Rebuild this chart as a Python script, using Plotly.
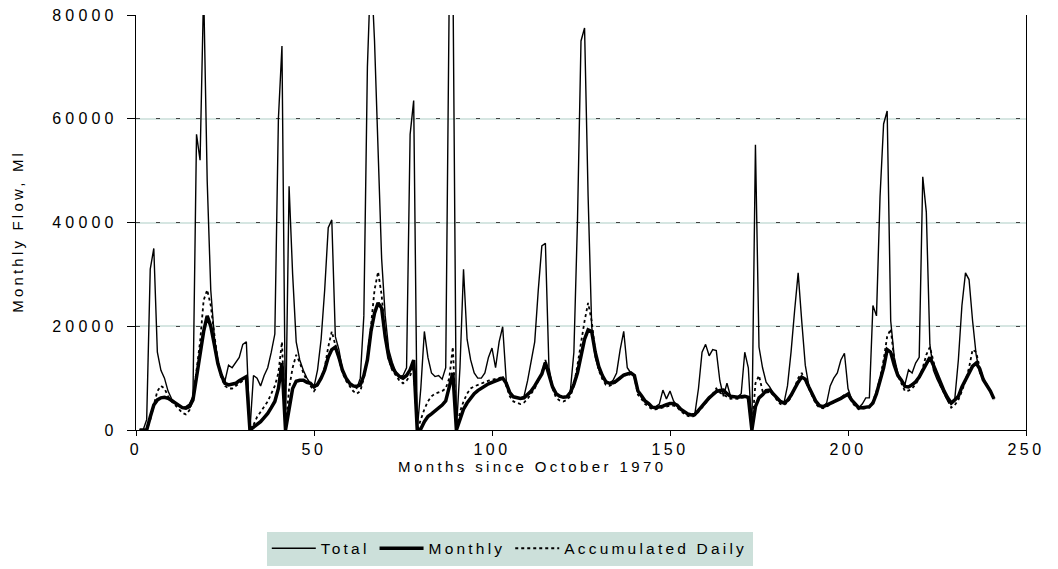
import plotly.graph_objects as go

months = list(range(1, 242))

total = [
    0, 0, 2000, 31000, 35000, 15000, 11500, 10000, 7500, 6000,
    5300, 4700, 4300, 4500, 5000, 6500, 57000, 52000, 85000, 48000,
    27000, 18000, 13000, 10500, 9500, 12500, 12000, 13000, 14000, 16500,
    17000, 0, 10500, 10000, 8500, 10500, 12000, 15000, 18500, 60000,
    74000, 0, 47000, 30000, 17000, 13500, 11500, 10000, 9000, 8300,
    11600, 17500, 27000, 39000, 40500, 18000, 15500, 11600, 10000, 9000,
    8500, 8000, 10000, 22000, 70000, 90000, 75000, 52000, 33000, 22000,
    15500, 13000, 11200, 10300, 10500, 12000, 57000, 63500, 0, 8000,
    19000, 14000, 11000, 10300, 10500, 9800, 12000, 85000, 90000, 0,
    12000, 31000, 17500, 13500, 11000, 10000, 10000, 11000, 14000, 15800,
    12000, 17000, 19900, 9500, 7000, 6400, 6200, 6200, 6500, 9500,
    13000, 17000, 27000, 35500, 36000, 12000, 8500, 7000, 6500, 6300,
    6300, 7500, 15000, 40000, 75000, 77500, 45000, 20000, 14000, 11600,
    10500, 9200, 9000, 9600, 11000, 15500, 19000, 12000, 11000, 10400,
    7500, 6300, 5400, 4800, 4300, 4500, 5000, 7700, 6000, 7500,
    5600, 4600, 3900, 3500, 3000, 2900, 3200, 8000, 15000, 16500,
    14300, 15500, 15300, 9500, 6500, 9000, 6500, 6400, 6400, 7000,
    15000, 12000, 0, 55000, 16000, 12000, 9200, 8300, 7200, 6000,
    5600, 5200, 8500, 15000, 23000, 30300, 21000, 12500, 8500, 6700,
    5500, 4700, 4500, 5200, 8500, 10000, 11000, 13500, 14800, 8000,
    6000, 5000, 4300, 5000, 6200, 6200, 24000, 22000, 45000, 59000,
    61500, 21000, 14000, 11000, 9600, 8800, 11600, 11000, 12900, 14000,
    48800, 42000, 16500, 11500, 9800, 8300, 6800, 5600, 5200, 6000,
    13500, 24000, 30300, 29000, 21000, 14500, 11000, 9700, 8700, 7500,
    6000,
]

monthly = [
    0, 0, 0, 2500, 4800, 5800, 6200, 6300, 6100, 5700,
    5200, 4700, 4300, 4200, 4500, 5800, 10000, 15000, 19000, 22000,
    20000, 16500, 12800, 10500, 9000, 8700, 8800, 9000, 9500, 10000,
    10300, 0, 500, 1000, 1600, 2400, 3200, 4300, 5500, 8000,
    12900, 0, 4500, 8000, 9400, 9600, 9600, 9200, 9000, 8300,
    8800, 10000, 11600, 14000, 15500, 16000, 14000, 11500, 10000, 9000,
    8500, 8400, 8700, 10500, 13500, 19000, 22500, 24500, 23500, 18000,
    14000, 12000, 11000, 10300, 10000, 10500, 11600, 13500, 0, 200,
    1600, 2600, 3100, 3600, 4200, 4800, 5600, 8500, 11000, 0,
    1800, 4000, 5200, 6200, 7000, 7600, 8100, 8500, 8900, 9200,
    9500, 9800, 10000, 9000, 7200, 6400, 6200, 6100, 6200, 6800,
    7500, 8500, 9600, 10800, 13000, 10500, 8300, 7000, 6500, 6300,
    6400, 7200, 8800, 11000, 14500, 17500, 19300, 19000, 15000, 12200,
    10500, 9300, 9000, 9100, 9500, 10000, 10600, 10800, 11000, 10500,
    7500, 6600, 5600, 5100, 4400, 4300, 4400, 4600, 4900, 5100,
    5100, 4800, 4000, 3500, 3100, 2900, 3000, 3800, 4600, 5500,
    6200, 6800, 7400, 7600, 7700, 7000, 6500, 6400, 6300, 6400,
    6500, 6300, 0, 4500, 6200, 6800, 7600, 7700, 7000, 6300,
    5500, 5200, 5700, 6700, 8000, 9200, 10200, 9800, 8300, 6700,
    5500, 4700, 4500, 4800, 5100, 5500, 5800, 6100, 6500, 6900,
    5800, 5000, 4300, 4300, 4400, 4500, 5200, 7000, 9500, 12000,
    15500, 15000, 12500, 10500, 9600, 8400, 8300, 8700, 9300, 10200,
    11500, 12700, 14000, 12500, 10800, 9000, 7500, 6200, 5200, 5800,
    6500, 8300, 9700, 11000, 12300, 12900, 11800, 9700, 8600, 7500,
    6000,
]

daily = [
    0, 0, 0, 2000, 5000, 7500, 8500, 8000, 6500, 5500,
    4800, 4000, 3300, 3000, 3800, 6000, 12000, 17000, 25000, 27000,
    24000, 18000, 13000, 10000, 8500, 8000, 8000, 8500, 9000, 9500,
    10000, 0, 1000, 2500, 3500, 4500, 5500, 7000, 8500, 11000,
    17000, 0, 8000, 12000, 14500, 13000, 11000, 9500, 8500, 7500,
    8500, 10000, 12000, 16000, 19000, 16500, 14000, 11000, 9500, 8500,
    7500, 7000, 7500, 10000, 14000, 20000, 27000, 30500, 26000, 18000,
    13500, 11500, 10500, 9500, 9000, 9500, 10500, 12000, 0, 2000,
    4000, 5500, 6500, 7000, 7200, 7500, 8000, 10000, 16000, 0,
    3500, 5500, 7000, 8000, 8400, 8700, 9000, 9200, 9500, 9700,
    9900, 10000, 10200, 8500, 6500, 5500, 5200, 5000, 5300, 6000,
    7000, 8000, 9500, 11000, 13500, 10500, 8000, 6200, 5700, 5500,
    5800, 6500, 8500, 12500, 17000, 21000, 24500, 21000, 15000, 11500,
    9800, 8700, 8500, 8800, 9300, 10000, 10600, 10500, 10800, 10200,
    6800, 6000, 5000, 4500, 4000, 4000, 4200, 4300, 4500, 4700,
    4700, 4400, 3600, 3200, 2700, 2500, 2800, 3500, 4300, 5200,
    6000, 7000, 8000, 7200, 6800, 6500, 6000, 6100, 6000, 6200,
    6300, 6000, 0, 9000, 10500, 7500, 7200, 7300, 6800, 5800,
    5000, 4800, 5300, 6300, 8000, 10000, 11000, 9500, 7800, 6200,
    5000, 4300, 4200, 4500, 4900, 5300, 5700, 6200, 6800, 7000,
    5500, 4600, 4000, 4100, 4200, 4300, 5500, 7500, 10000, 13500,
    18000, 19500, 13500, 10500, 9000, 7500, 7600, 8000, 8800, 10000,
    12000, 14500, 16000, 13000, 10500, 8500, 7000, 5500, 4300, 4800,
    5800, 7500, 9500, 12000, 15500, 15000, 12000, 10000, 8800, 7500,
    5800,
]

x_ticks = [0, 50, 100, 150, 200, 250]
y_ticks = [0, 20000, 40000, 60000, 80000]

FONT = "Liberation Sans, Arial, sans-serif"


def spaced(txt, px):
    return '<span style="letter-spacing:%spx">%s</span>' % (px, txt)


fig = go.Figure()
fig.add_trace(go.Scatter(x=months, y=total, mode="lines", name=spaced("Total", 3.2),
                         line=dict(color="black", width=1.4)))
fig.add_trace(go.Scatter(x=months, y=monthly, mode="lines", name=spaced("Monthly", 3.2),
                         line=dict(color="black", width=3.5)))
fig.add_trace(go.Scatter(x=months, y=daily, mode="lines", name=spaced("Accumulated Daily", 3.2),
                         line=dict(color="black", width=1.8, dash="3px,3px")))
# carrier for the dashed grid overlay
fig.add_trace(go.Scatter(x=[None], y=[None], yaxis="y2", showlegend=False,
                         hoverinfo="skip", mode="lines"))

fig.update_layout(
    width=1058, height=569,
    margin=dict(l=136, r=32, t=15, b=139, autoexpand=False),
    paper_bgcolor="white", plot_bgcolor="white",
    font=dict(family=FONT, size=15, color="black"),
    showlegend=True,
    legend=dict(orientation="h", x=0.42, xanchor="center", y=-0.245, yanchor="top",
                bgcolor="#cce0da", font=dict(size=15.5), itemwidth=44,
                tracegroupgap=0, borderwidth=0),
    xaxis=dict(range=[0, 250], tickmode="array", tickvals=x_ticks,
               ticktext=[spaced(str(v), 3.5) for v in x_ticks],
               showgrid=False, zeroline=False, automargin=False,
               showline=True, linecolor="black", linewidth=1.2,
               ticks="outside", ticklen=5, tickcolor="black",
               tickfont=dict(size=16)),
    yaxis=dict(range=[0, 80000], tickmode="array", tickvals=y_ticks,
               ticktext=[spaced(str(v), 4.2) for v in y_ticks],
               showgrid=True, gridcolor="#d6e6e2", gridwidth=1.5,
               zeroline=False, automargin=False,
               showline=True, linecolor="black", linewidth=1.2, mirror=True,
               ticks="outside", ticklen=8, tickcolor="black",
               ticklabelstandoff=6, tickfont=dict(size=16)),
    yaxis2=dict(range=[0, 80000], overlaying="y", tickmode="array", tickvals=y_ticks,
                showgrid=True, gridcolor="#444444", griddash="4px,16px", gridwidth=1,
                showticklabels=False, ticks="", zeroline=False, showline=False,
                automargin=False),
)

fig.add_annotation(text=spaced("Months since October 1970", 3.4), xref="paper", yref="paper",
                   x=0.445, y=-0.089, xanchor="center", yanchor="middle",
                   showarrow=False, font=dict(size=15))
fig.add_annotation(text=spaced("Monthly Flow, Ml", 3.2), xref="paper", yref="paper",
                   x=-0.1326, y=0.48, xanchor="center", yanchor="middle", textangle=-90,
                   showarrow=False, font=dict(size=15))

fig.write_html("out.html", config={"displayModeBar": False},
               post_script="document.body.style.margin='0';document.body.style.padding='0';")
